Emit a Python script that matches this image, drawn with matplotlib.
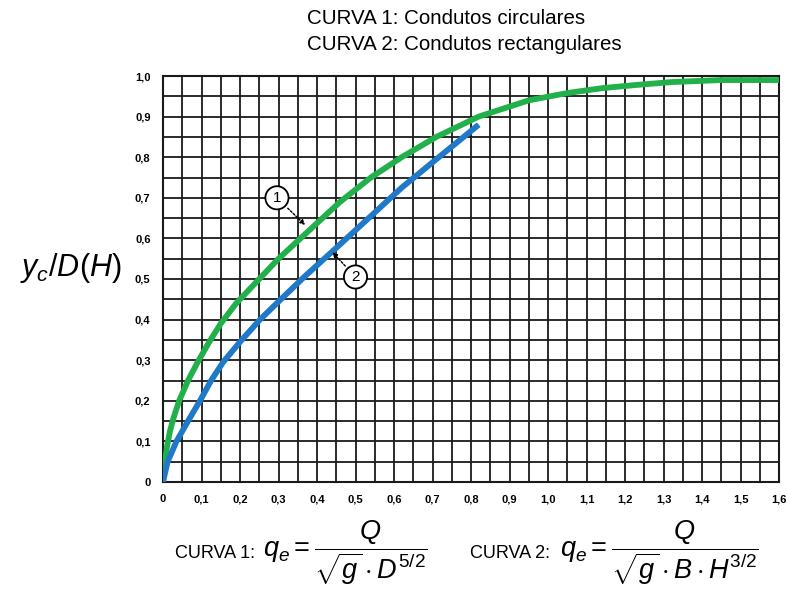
import matplotlib
matplotlib.use("Agg")
import matplotlib.pyplot as plt
import numpy as np

# ---- data ----
curve1_x = [0, 0.004, 0.01, 0.018, 0.028, 0.042, 0.065, 0.09, 0.12, 0.15, 0.19, 0.23, 0.30, 0.38,
            0.46, 0.54, 0.62, 0.71, 0.82, 0.95, 1.05, 1.14, 1.23, 1.32, 1.45, 1.6]
curve1_y = [0, 0.04, 0.085, 0.125, 0.16, 0.20, 0.25, 0.295, 0.345, 0.39, 0.44, 0.48, 0.55, 0.62,
            0.69, 0.75, 0.80, 0.85, 0.90, 0.94, 0.958, 0.97, 0.978, 0.985, 0.99, 0.99]
curve2_x = [0, 0.012, 0.035, 0.065, 0.096, 0.125, 0.156, 0.20, 0.252, 0.304, 0.37, 0.44,
            0.54, 0.62, 0.71, 0.82]
curve2_y = [0, 0.05, 0.10, 0.15, 0.20, 0.25, 0.295, 0.345, 0.40, 0.448, 0.508, 0.568,
            0.655, 0.725, 0.795, 0.88]
x_ticks = [0, 0.1, 0.2, 0.3, 0.4, 0.5, 0.6, 0.7, 0.8, 0.9, 1.0, 1.1, 1.2, 1.3, 1.4, 1.5, 1.6]
x_ticklabels = ["0", "0,1", "0,2", "0,3", "0,4", "0,5", "0,6", "0,7", "0,8", "0,9", "1,0",
                "1,1", "1,2", "1,3", "1,4", "1,5", "1,6"]
y_ticks = [0, 0.1, 0.2, 0.3, 0.4, 0.5, 0.6, 0.7, 0.8, 0.9, 1.0]
y_ticklabels = ["0", "0,1", "0,2", "0,3", "0,4", "0,5", "0,6", "0,7", "0,8", "0,9", "1,0"]
title_lines = ["CURVA 1: Condutos circulares", "CURVA 2: Condutos rectangulares"]

plt.rcParams['font.family'] = ['Liberation Sans', 'DejaVu Sans']
plt.rcParams['mathtext.fontset'] = 'custom'
plt.rcParams['mathtext.rm'] = 'Liberation Sans'
plt.rcParams['mathtext.it'] = 'Liberation Sans:italic'
plt.rcParams['mathtext.bf'] = 'Liberation Sans:bold'

fig = plt.figure(figsize=(7.87, 5.89), dpi=100)
ax = fig.add_axes([163/787, 1-482/589, (779-163)/787, (482-76)/589])
ax.set_xlim(0, 1.6)
ax.set_ylim(0, 1.0)

# grid every 0.05
for gx in np.arange(0, 1.6001, 0.05):
    ax.axvline(gx, color='#1a1a1a', lw=1.3, zorder=1)
for gy in np.arange(0, 1.0001, 0.05):
    ax.axhline(gy, color='#1a1a1a', lw=1.3, zorder=1)
for s in ax.spines.values():
    s.set_linewidth(1.5)
    s.set_color('#1a1a1a')

ax.plot(curve1_x, curve1_y, color='#22b04b', lw=4.2, solid_capstyle='butt',
        solid_joinstyle='round', zorder=3)
ax.plot(curve2_x, curve2_y, color='#1f78c8', lw=4.2, solid_capstyle='butt',
        solid_joinstyle='round', zorder=3)

ax.set_xticks(x_ticks)
ax.set_xticklabels(x_ticklabels)
ax.set_yticks(y_ticks)
ax.set_yticklabels(y_ticklabels)
ax.tick_params(length=0, labelsize=8, pad=9)
for lab in ax.get_xticklabels() + ax.get_yticklabels():
    lab.set_fontweight('bold')

# annotations
ax.annotate('1', xy=(0.369, 0.633), xytext=(0.296, 0.70), fontsize=11, ha='center', va='center',
            bbox=dict(boxstyle='circle,pad=0.3', fc='white', ec='black', lw=1.3),
            arrowprops=dict(arrowstyle='-|>', color='black', lw=1.0, ls=(0, (1.5, 1.2)),
                            mutation_scale=7, shrinkA=2, shrinkB=0), zorder=5)
ax.annotate('2', xy=(0.44, 0.566), xytext=(0.50, 0.505), fontsize=11, ha='center', va='center',
            bbox=dict(boxstyle='circle,pad=0.3', fc='white', ec='black', lw=1.3),
            arrowprops=dict(arrowstyle='-|>', color='black', lw=1.0, ls=(0, (1.5, 1.2)),
                            mutation_scale=7, shrinkA=2, shrinkB=0), zorder=5)

# title lines
fig.text(307/787, 1-19/589, title_lines[0], fontsize=14.8, ha='left', va='center')
fig.text(307/787, 1-44/589, title_lines[1], fontsize=14.8, ha='left', va='center')

# y label
fig.text(71/787, 1-268/589, r'$y_c/D(H)$', fontsize=22, ha='center', va='center')

# bottom formulas
fig.text(175/787, 1-553/589, 'CURVA 1:', fontsize=13, ha='left', va='center')
fig.text(263/787, 1-553/589, r'$q_e = \dfrac{Q}{\sqrt{g}\cdot D^{5/2}}$', fontsize=19.5,
         ha='left', va='center')
fig.text(470/787, 1-553/589, 'CURVA 2:', fontsize=13, ha='left', va='center')
fig.text(560/787, 1-553/589, r'$q_e = \dfrac{Q}{\sqrt{g}\cdot B\cdot H^{3/2}}$', fontsize=19.5,
         ha='left', va='center')

fig.savefig('out.png', dpi=100)
